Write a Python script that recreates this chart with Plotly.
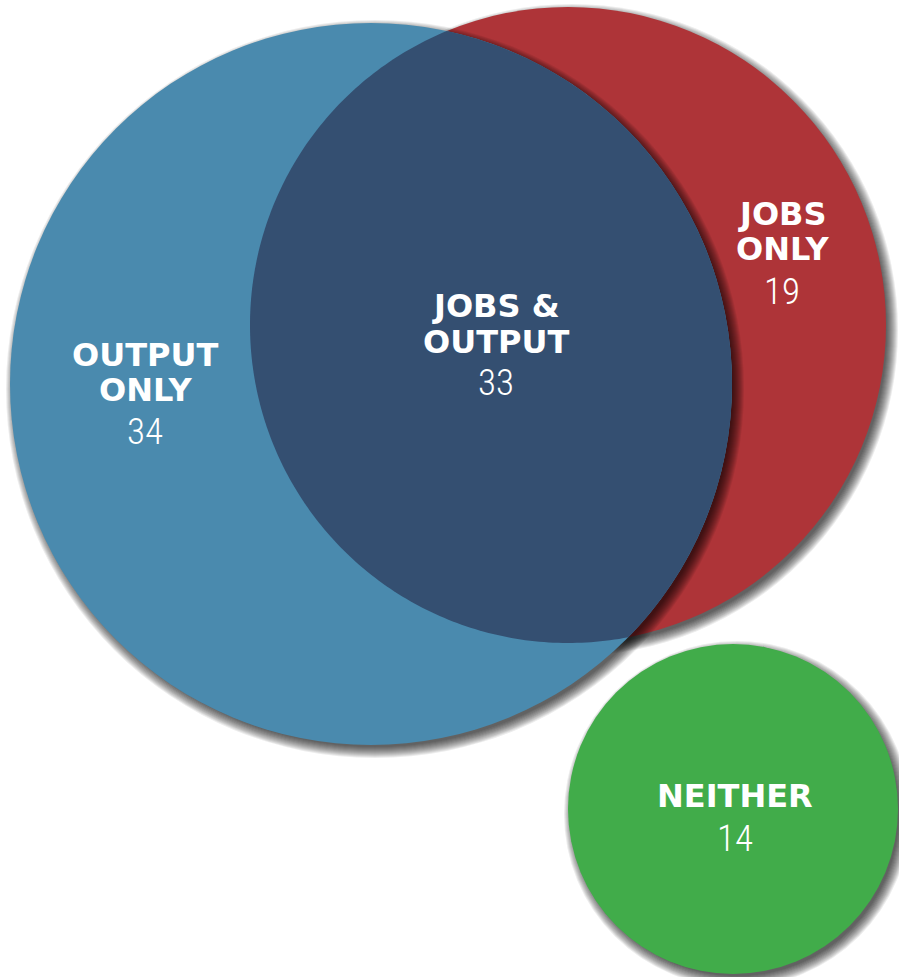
import numpy as np
import plotly.graph_objects as go

# ---- data ----
regions = ["OUTPUT ONLY", "JOBS & OUTPUT", "JOBS ONLY", "NEITHER"]
label_lines = [["OUTPUT", "ONLY"], ["JOBS &", "OUTPUT"], ["JOBS", "ONLY"], ["NEITHER"]]
counts = [34, 33, 19, 14]

# ---- layout geometry (pixels) ----
W, H = 899, 977
blue = dict(cx=371, cy=384, r=361, color="#4A8AAE")
red = dict(cx=568, cy=325, r=318, color="#AE3438")
green = dict(cx=733, cy=809, r=165, color="#41AC4A")
lens_color = "#344F71"

label_x = [145, 496, 782, 735]
label_line_y = [[355, 390], [306, 342], [214, 249], [796]]
number_y = [431, 382, 291, 838]

BOLD_FONT = "DejaVu Sans"
NUM_FONT = "Liberation Sans Narrow, Roboto Condensed, DejaVu Sans Condensed, Roboto"


def circle_shape(c, color, dx=0, dy=0, dr=0, opacity=1.0):
    return dict(type="circle", xref="x", yref="y",
                x0=c["cx"] - c["r"] - dr + dx, x1=c["cx"] + c["r"] + dr + dx,
                y0=c["cy"] - c["r"] - dr + dy, y1=c["cy"] + c["r"] + dr + dy,
                fillcolor=color, opacity=opacity, line=dict(width=0), layer="below")


def shadow(c, dx=4, dy=5, n=12):
    out = []
    for k in range(n):
        out.append(circle_shape(c, "black", dx, dy, dr=k * 1.0 - 3, opacity=0.075))
    return out


def lens_path(c1, c2, n=200):
    p1 = np.array([c1["cx"], c1["cy"]], float)
    p2 = np.array([c2["cx"], c2["cy"]], float)
    d = np.linalg.norm(p2 - p1)
    a1 = (c1["r"] ** 2 - c2["r"] ** 2 + d ** 2) / (2 * d)
    a2 = d - a1
    base1 = np.arctan2(*(p2 - p1)[::-1])
    base2 = base1 + np.pi
    h1 = np.arccos(a1 / c1["r"])
    h2 = np.arccos(a2 / c2["r"])
    t1 = np.linspace(base1 - h1, base1 + h1, n)
    t2 = np.linspace(base2 - h2, base2 + h2, n)
    arc1 = np.c_[p1[0] + c1["r"] * np.cos(t1), p1[1] + c1["r"] * np.sin(t1)]
    arc2 = np.c_[p2[0] + c2["r"] * np.cos(t2), p2[1] + c2["r"] * np.sin(t2)]
    if np.linalg.norm(arc2[0] - arc1[-1]) > np.linalg.norm(arc2[-1] - arc1[-1]):
        arc2 = arc2[::-1]
    pts = np.vstack([arc1, arc2])
    return "M " + " L ".join(f"{x:.2f},{y:.2f}" for x, y in pts) + " Z"


shapes = []
shapes += shadow(red)
shapes.append(circle_shape(red, red["color"]))
shapes += shadow(blue)
shapes.append(circle_shape(blue, blue["color"]))
shapes.append(dict(type="path", xref="x", yref="y", path=lens_path(blue, red),
                   fillcolor=lens_color, line=dict(width=0), layer="below"))
shapes += shadow(green)
shapes.append(circle_shape(green, green["color"]))

annotations = []
for i, lines in enumerate(label_lines):
    for ln, y in zip(lines, label_line_y[i]):
        annotations.append(dict(x=label_x[i], y=y, xref="x", yref="y", text=ln,
                                showarrow=False, xanchor="center", yanchor="middle", borderpad=0,
                                font=dict(family=BOLD_FONT, size=32, color="white", weight="bold")))
    annotations.append(dict(x=label_x[i], y=number_y[i], xref="x", yref="y", text=str(counts[i]),
                            showarrow=False, xanchor="center", yanchor="middle", borderpad=0,
                            font=dict(family=NUM_FONT, size=37, color="white", weight=300)))

fig = go.Figure()
fig.add_trace(go.Scatter(x=[0, W], y=[0, H], mode="markers", marker=dict(opacity=0),
                         hoverinfo="skip", showlegend=False))
fig.update_layout(
    width=W, height=H, autosize=False,
    margin=dict(l=0, r=0, t=0, b=0, pad=0),
    paper_bgcolor="white", plot_bgcolor="white",
    xaxis=dict(range=[0, W], visible=False, fixedrange=True),
    yaxis=dict(range=[H, 0], visible=False, fixedrange=True),
    shapes=shapes, annotations=annotations, showlegend=False,
)
fig.write_html("out.html", config={"displayModeBar": False},
               post_script="document.body.style.margin='0';document.body.style.overflow='hidden';")
